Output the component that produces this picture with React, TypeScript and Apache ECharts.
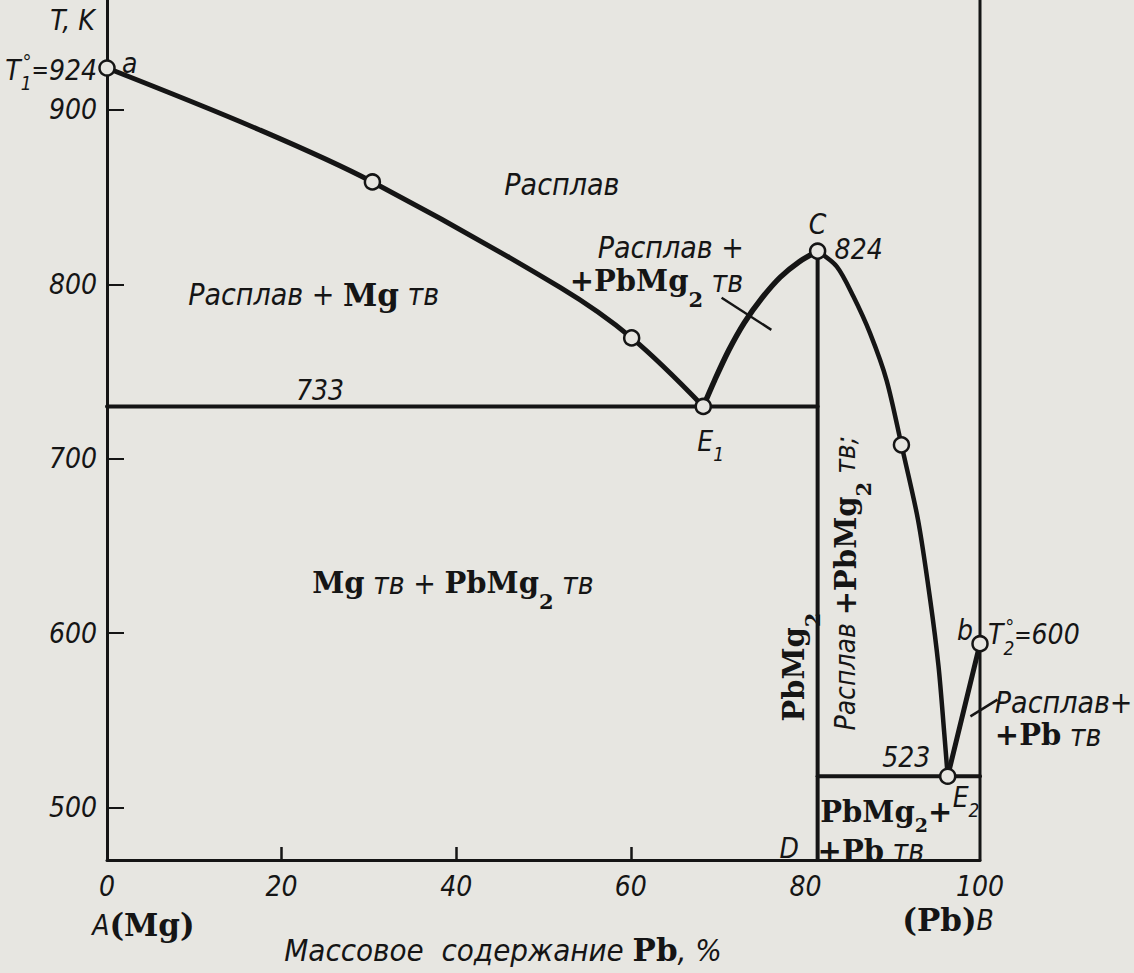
import React, { useEffect, useRef } from "react";
import * as echarts from "echarts";

// ---- data (mass % Pb, temperature K) ----
const X_LABELS = [0, 20, 40, 60, 80, 100];
const X_TICKS = [20, 40, 60];
const Y_TICKS = [500, 600, 700, 800, 900];

const LIQUIDUS_MG = [[0, 924], [17.5, 888.5], [30.4, 858.7], [51.9, 798.2], [60.1, 769.3], [68.3, 730]];
const LIQUIDUS_C_LEFT = [[68.3, 730], [69.6, 745], [71.2, 762], [73.0, 778], [75.0, 792], [77.1, 804], [79.3, 813], [81.4, 819]];
const LIQUIDUS_C_RIGHT = [[81.4, 819], [83.6, 810.2], [85.5, 793], [87.4, 772], [89.3, 745], [91.0, 708], [92.9, 665], [94.3, 619], [95.25, 581], [95.9, 543], [96.3, 518]];
const LIQUIDUS_PB = [[96.3, 518], [100, 594]];
const EUTECTIC_1 = [[0, 730], [81.4, 730]];
const EUTECTIC_2 = [[81.4, 518], [100, 518]];
const COMPOUND = [[81.4, 467], [81.4, 819]];
const RIGHT_EDGE = [[100, 470], [100, 963]];
const POINTS = [[0, 924], [30.4, 858.7], [60.1, 769.3], [68.3, 730], [81.4, 819], [91.0, 708], [96.3, 518], [100, 594], [81.4, 467]];
const LEADERS = [
  [[70.4, 792.3], [76.1, 773.9]],
  [[98.9, 552.3], [102.0, 561.9]],
];

const INK = "#151515";
const PAPER = "#e7e6e1";
const SANS = "'DejaVu Sans Condensed', 'DejaVu Sans', sans-serif";
const SERIF = "'DejaVu Serif', serif";

const RICH: any = {
  i: { fontFamily: SANS, fontStyle: "italic", fontSize: 28, fill: INK },
  I: { fontFamily: SANS, fontStyle: "italic", fontSize: 30, fill: INK },
  X: { fontFamily: SANS, fontStyle: "italic", fontSize: 31, fill: INK },
  b: { fontFamily: SERIF, fontWeight: "bold", fontSize: 29, fill: INK },
  B: { fontFamily: SERIF, fontWeight: "bold", fontSize: 31, fill: INK },
  s: { fontFamily: SERIF, fontWeight: "bold", fontSize: 21, fill: INK, padding: [36, 0, 0, 0] },
  s2: { fontFamily: SERIF, fontWeight: "bold", fontSize: 19, fill: INK, padding: [26, 0, 0, 0] },
  si: { fontFamily: SANS, fontStyle: "italic", fontSize: 19, fill: INK, padding: [26, 0, 0, 0] },
  dg: { fontFamily: SANS, fontSize: 20, fill: INK, padding: [0, 0, 16, -9] },
  eq: { fontFamily: SANS, fontStyle: "italic", fontSize: 23, fill: INK },
};

type Lab = { at: number[]; text: string; align: string; dx?: number; dy?: number; rot?: boolean };

const LABELS: Lab[] = [
  { at: [-6.5, 951.5], text: "{i|T, K}", align: "left" },
  { at: [0, 924], dx: -10, dy: 2, text: "{i|T}{si|1}{dg|°}{eq|=}{i|924}", align: "right" },
  { at: [0, 924], dx: 15, dy: -5, text: "{i|a}", align: "left" },
  { at: [52.1, 857.5], text: "{I|Расплав}", align: "center" },
  { at: [9.3, 793.9], text: "{I|Расплав + }{B|Mg}{I| тв}", align: "left" },
  { at: [56.2, 821.4], text: "{I|Расплав +}", align: "left" },
  { at: [53.0, 801.9], text: "{b|+PbMg}{s|2}{I| тв}", align: "left" },
  { at: [81.4, 819], dx: 0, dy: -27, text: "{i|C}", align: "center" },
  { at: [81.4, 819], dx: 17, dy: -2, text: "{i|824}", align: "left" },
  { at: [24.4, 739.4], text: "{i|733}", align: "center" },
  { at: [68.3, 730], dx: -6, dy: 35, text: "{i|E}{si|1}", align: "left" },
  { at: [23.5, 628.7], text: "{b|Mg}{I| тв + }{b|PbMg}{s|2}{I| тв}", align: "left" },
  { at: [78.7, 580.6], text: "{b|PbMg}{s|2}", align: "center", rot: true },
  { at: [84.6, 628.7], text: "{i|Расплав }{b|+PbMg}{s|2}{i| тв;}", align: "center", rot: true },
  { at: [100, 594], dx: -23, dy: -13, text: "{i|b}", align: "left" },
  { at: [100, 594], dx: 8, dy: -9, text: "{i|T}{si|2}{dg|°}{eq|=}{i|600}", align: "left" },
  { at: [101.7, 560.5], text: "{I|Расплав+}", align: "left" },
  { at: [101.7, 541.6], text: "{b|+Pb}{I| тв}", align: "left" },
  { at: [88.8, 529], text: "{i|523}", align: "left" },
  { at: [96.3, 518], dx: 5, dy: 21, text: "{i|E}{si|2}", align: "left" },
  { at: [81.7, 497.5], text: "{b|PbMg}{s2|2}{b|+}", align: "left" },
  { at: [81.4, 475.2], text: "{b|+Pb}{I| тв}", align: "left" },
  { at: [81.4, 467], dx: -38, dy: -17, text: "{i|D}", align: "left" },
  { at: [-1.7, 432.6], text: "{i|A}{B|(Mg)}", align: "left" },
  { at: [91.1, 435.5], text: "{B|(Pb)}{i|B}", align: "left" },
  { at: [20.3, 418.5], text: "{X|Массовое  содержание }{B|Pb}{X|, %}", align: "left" },
];

function lineSeries(data: number[][], width: number, smooth: number | boolean = false) {
  return {
    type: "line",
    data,
    smooth,
    showSymbol: false,
    silent: true,
    lineStyle: { color: INK, width, cap: "round", join: "round" },
    z: 3,
  };
}

const axisFont = { fontFamily: SANS, fontStyle: "italic", fontSize: 28, color: INK };

export default function App() {
  const ref = useRef<HTMLDivElement>(null);
  useEffect(() => {
    const chart = echarts.init(ref.current!, null, { renderer: "svg" });
    chart.setOption({
      animation: false,
      backgroundColor: PAPER,
      grid: { left: 107, right: 154, top: 0, bottom: 113, containLabel: false },
      xAxis: {
        type: "value",
        min: 0,
        max: 100,
        axisLine: { show: true, onZero: false, lineStyle: { color: INK, width: 3 } },
        axisTick: { show: true, inside: true, length: 13, customValues: X_TICKS, lineStyle: { color: INK, width: 2.5 } },
        axisLabel: { ...axisFont, customValues: X_LABELS, margin: 12 },
        splitLine: { show: false },
      },
      yAxis: {
        type: "value",
        min: 470,
        max: 963,
        axisLine: { show: true, onZero: false, lineStyle: { color: INK, width: 3 } },
        axisTick: { show: true, inside: true, length: 17, customValues: Y_TICKS, lineStyle: { color: INK, width: 2 } },
        axisLabel: { ...axisFont, customValues: Y_TICKS, margin: 10 },
        splitLine: { show: false },
      },
      series: [
        lineSeries(RIGHT_EDGE, 3),
        lineSeries(EUTECTIC_1, 4),
        lineSeries(EUTECTIC_2, 4),
        lineSeries(COMPOUND, 4),
        lineSeries(LIQUIDUS_MG, 5, 0.35),
        lineSeries(LIQUIDUS_C_LEFT, 5.5, 0.3),
        lineSeries(LIQUIDUS_C_RIGHT, 4.5, 0.3),
        lineSeries(LIQUIDUS_PB, 5),
        {
          type: "scatter",
          data: POINTS,
          symbol: "circle",
          symbolSize: 15,
          silent: true,
          itemStyle: { color: PAPER, borderColor: INK, borderWidth: 2.5, opacity: 1 },
          z: 5,
        },
      ],
    });
    const toPx = (v: number[]) => chart.convertToPixel({ gridIndex: 0 }, v) as number[];
    const texts = LABELS.map((l) => {
      const p = toPx(l.at);
      return {
        type: "text",
        x: p[0] + (l.dx || 0),
        y: p[1] + (l.dy || 0),
        rotation: l.rot ? Math.PI / 2 : 0,
        z: 10,
        silent: true,
        style: {
          text: l.text,
          rich: RICH,
          fill: INK,
          align: l.align,
          textAlign: l.align,
          verticalAlign: "middle",
          textVerticalAlign: "middle",
        },
      };
    });
    const leaders = LEADERS.map((seg) => {
      const a = toPx(seg[0]);
      const b = toPx(seg[1]);
      return {
        type: "line",
        z: 4,
        silent: true,
        shape: { x1: a[0], y1: a[1], x2: b[0], y2: b[1] },
        style: { stroke: INK, lineWidth: 2.5 },
      };
    });
    chart.setOption({ graphic: [...leaders, ...texts] });
    return () => chart.dispose();
  }, []);
  return (
    <div
      ref={ref}
      style={{ position: "fixed", left: 0, top: 0, width: 1134, height: 973, background: PAPER }}
    />
  );
}
